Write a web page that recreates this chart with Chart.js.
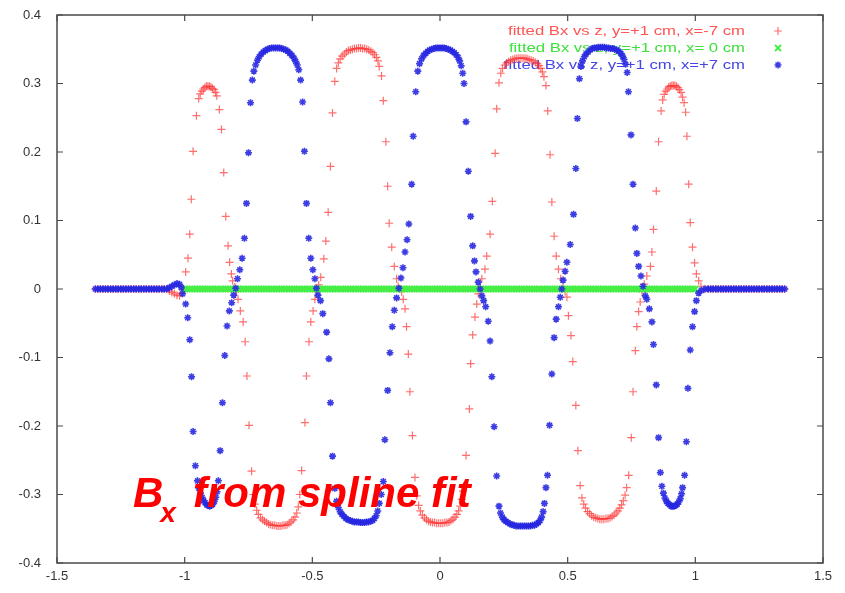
<!DOCTYPE html>
<html>
<head>
<meta charset="utf-8">
<script src="https://cdn.jsdelivr.net/npm/chart.js@4.4.1/dist/chart.umd.min.js"></script>
<style>html,body{margin:0;padding:0;background:#fff;}canvas{display:block;}</style>
</head>
<body>
<canvas id="c" width="845" height="593"></canvas>
<script>
// ---- data ----
const seriesLabels = [
  'fitted Bx vs z, y=+1 cm, x=-7 cm',
  'fitted Bx vs z, y=+1 cm, x= 0 cm',
  'fitted Bx vs z, y=+1 cm, x=+7 cm'
];
const xTicks = [-1.5, -1, -0.5, 0, 0.5, 1, 1.5];
const xTickLabels = ['-1.5', '-1', '-0.5', '0', '0.5', '1', '1.5'];
const yTicks = [-0.4, -0.3, -0.2, -0.1, 0, 0.1, 0.2, 0.3, 0.4];
const yTickLabels = ['-0.4', '-0.3', '-0.2', '-0.1', '0', '0.1', '0.2', '0.3', '0.4'];
const annotationMain = 'B';
const annotationSub = 'x';
const annotationRest = 'from spline fit';

// x = -7 cm  [z, Bx]
const redPoints = [
[-1.35,0],[-1.34,0],[-1.33,0],[-1.32,0],[-1.31,0],[-1.30,0],[-1.29,0],[-1.28,0],[-1.27,0],[-1.26,0],
[-1.25,0],[-1.24,0],[-1.23,0],[-1.22,0],[-1.21,0],[-1.20,0],[-1.19,0],[-1.18,0],[-1.17,0],[-1.16,0],
[-1.15,0],[-1.14,0],[-1.13,0],[-1.12,0],[-1.11,0],[-1.10,0],[-1.09,0],[-1.08,0],[-1.07,0],
[-1.06,-0.003],[-1.05,-0.005],[-1.04,-0.007],[-1.03,-0.009],[-1.02,-0.010],[-1.012,-0.006],[-1.004,0.000],
[-0.996,0.025],[-0.987,0.045],[-0.980,0.080],[-0.974,0.131],[-0.967,0.201],[-0.954,0.253],[-0.945,0.278],
[-0.939,0.285],[-0.933,0.289],[-0.927,0.292],[-0.921,0.294],[-0.915,0.296],[-0.909,0.296],[-0.903,0.296],[-0.897,0.295],[-0.891,0.293],[-0.885,0.291],[-0.879,0.287],[-0.874,0.282],
[-0.864,0.262],[-0.856,0.233],[-0.847,0.170],[-0.839,0.106],[-0.830,0.063],[-0.824,0.039],[-0.817,0.022],[-0.812,0.012],[-0.804,0.003],[-0.797,-0.004],[-0.791,-0.015],[-0.782,-0.032],[-0.771,-0.048],[-0.763,-0.077],[-0.756,-0.127],[-0.748,-0.199],[-0.738,-0.266],
[-0.731,-0.300],[-0.725,-0.314],[-0.718,-0.323],[-0.711,-0.329],[-0.703,-0.334],[-0.695,-0.337],[-0.687,-0.339],[-0.679,-0.341],[-0.671,-0.343],[-0.663,-0.344],[-0.655,-0.345],[-0.647,-0.345],[-0.639,-0.346],[-0.631,-0.346],[-0.623,-0.346],[-0.615,-0.345],[-0.607,-0.345],[-0.599,-0.344],[-0.591,-0.342],[-0.583,-0.340],[-0.575,-0.337],[-0.568,-0.333],[-0.561,-0.327],[-0.555,-0.318],[-0.549,-0.300],
[-0.542,-0.265],[-0.529,-0.195],[-0.523,-0.127],[-0.513,-0.077],[-0.506,-0.048],[-0.497,-0.032],[-0.490,-0.015],[-0.484,-0.004],[-0.475,0.006],[-0.467,0.017],[-0.455,0.044],[-0.447,0.070],[-0.438,0.112],[-0.429,0.179],[-0.421,0.257],[-0.412,0.303],
[-0.405,0.322],[-0.398,0.330],[-0.391,0.336],[-0.383,0.340],[-0.375,0.343],[-0.367,0.346],[-0.359,0.348],[-0.351,0.349],[-0.343,0.350],[-0.335,0.351],[-0.327,0.351],[-0.319,0.352],[-0.311,0.352],[-0.303,0.351],[-0.295,0.351],[-0.287,0.350],[-0.279,0.349],[-0.271,0.347],[-0.263,0.345],[-0.256,0.342],[-0.249,0.338],[-0.243,0.333],[-0.238,0.325],
[-0.229,0.311],[-0.222,0.275],[-0.212,0.215],[-0.205,0.150],[-0.199,0.096],[-0.189,0.061],[-0.179,0.033],[-0.170,0.015],[-0.164,0.004],[-0.157,0.000],[-0.150,-0.004],[-0.144,-0.015],[-0.137,-0.029],[-0.131,-0.055],[-0.124,-0.095],[-0.118,-0.150],[-0.108,-0.214],[-0.098,-0.275],
[-0.091,-0.302],[-0.084,-0.316],[-0.077,-0.324],[-0.069,-0.330],[-0.061,-0.334],[-0.053,-0.337],[-0.045,-0.339],[-0.037,-0.340],[-0.029,-0.341],[-0.021,-0.341],[-0.013,-0.342],[-0.005,-0.342],[0.003,-0.342],[0.011,-0.342],[0.019,-0.341],[0.027,-0.341],[0.035,-0.340],[0.043,-0.338],[0.051,-0.336],[0.059,-0.333],[0.066,-0.329],[0.073,-0.324],[0.079,-0.317],[0.085,-0.307],[0.090,-0.295],
[0.102,-0.243],[0.115,-0.175],[0.120,-0.109],[0.128,-0.067],[0.137,-0.041],[0.144,-0.022],[0.150,-0.007],[0.157,0.003],[0.164,0.015],[0.176,0.029],[0.183,0.048],[0.196,0.080],[0.205,0.128],[0.216,0.198],[0.222,0.263],[0.231,0.301],
[0.238,0.315],[0.245,0.322],[0.253,0.327],[0.261,0.330],[0.269,0.332],[0.277,0.334],[0.285,0.335],[0.293,0.336],[0.301,0.337],[0.309,0.337],[0.317,0.337],[0.325,0.337],[0.333,0.337],[0.341,0.336],[0.349,0.335],[0.357,0.334],[0.365,0.333],[0.373,0.331],[0.381,0.329],[0.388,0.326],[0.395,0.322],[0.401,0.317],[0.407,0.310],
[0.415,0.297],[0.422,0.260],[0.431,0.196],[0.438,0.127],[0.447,0.077],[0.455,0.048],[0.464,0.029],[0.473,0.015],[0.482,0.003],[0.490,-0.004],[0.497,-0.012],[0.503,-0.039],[0.513,-0.068],[0.520,-0.106],[0.532,-0.170],[0.540,-0.236],[0.549,-0.287],
[0.556,-0.305],[0.563,-0.314],[0.570,-0.320],[0.578,-0.325],[0.586,-0.328],[0.594,-0.331],[0.602,-0.333],[0.610,-0.334],[0.618,-0.335],[0.626,-0.336],[0.634,-0.336],[0.642,-0.336],[0.650,-0.335],[0.658,-0.335],[0.666,-0.334],[0.674,-0.332],[0.682,-0.330],[0.690,-0.327],[0.697,-0.324],[0.704,-0.320],[0.711,-0.315],[0.718,-0.309],[0.725,-0.301],[0.731,-0.290],
[0.739,-0.272],[0.749,-0.217],[0.756,-0.150],[0.765,-0.090],[0.771,-0.055],[0.778,-0.033],[0.784,-0.019],[0.791,-0.004],[0.800,0.007],[0.810,0.019],[0.824,0.033],[0.830,0.054],[0.836,0.087],[0.847,0.143],[0.856,0.215],[0.866,0.260],
[0.872,0.276],[0.878,0.284],[0.884,0.289],[0.890,0.292],[0.896,0.295],[0.902,0.296],[0.908,0.297],[0.914,0.297],[0.920,0.297],[0.926,0.296],[0.932,0.294],[0.938,0.291],[0.944,0.287],[0.950,0.280],[0.956,0.272],
[0.962,0.258],[0.967,0.223],[0.974,0.153],[0.980,0.097],[0.989,0.061],[0.997,0.038],[1.004,0.022],[1.013,0.012],[1.022,0.004],[1.035,0.000],
[1.05,0],[1.06,0],[1.07,0],[1.08,0],[1.09,0],[1.10,0],[1.11,0],[1.12,0],[1.13,0],[1.14,0],
[1.15,0],[1.16,0],[1.17,0],[1.18,0],[1.19,0],[1.20,0],[1.21,0],[1.22,0],[1.23,0],[1.24,0],
[1.25,0],[1.26,0],[1.27,0],[1.28,0],[1.29,0],[1.30,0],[1.31,0],[1.32,0],[1.33,0],[1.34,0],[1.35,0]
];

// x = 0 cm  [z, Bx]
const greenPoints = [
[-1.00,0],[-0.99,0],[-0.98,0],[-0.97,0],[-0.96,0],[-0.95,0],[-0.94,0],[-0.93,0],[-0.92,0],[-0.91,0],
[-0.90,0],[-0.89,0],[-0.88,0],[-0.87,0],[-0.86,0],[-0.85,0],[-0.84,0],[-0.83,0],[-0.82,0],[-0.81,0],
[-0.80,0],[-0.79,0],[-0.78,0],[-0.77,0],[-0.76,0],[-0.75,0],[-0.74,0],[-0.73,0],[-0.72,0],[-0.71,0],
[-0.70,0],[-0.69,0],[-0.68,0],[-0.67,0],[-0.66,0],[-0.65,0],[-0.64,0],[-0.63,0],[-0.62,0],[-0.61,0],
[-0.60,0],[-0.59,0],[-0.58,0],[-0.57,0],[-0.56,0],[-0.55,0],[-0.54,0],[-0.53,0],[-0.52,0],[-0.51,0],
[-0.50,0],[-0.49,0],[-0.48,0],[-0.47,0],[-0.46,0],[-0.45,0],[-0.44,0],[-0.43,0],[-0.42,0],[-0.41,0],
[-0.40,0],[-0.39,0],[-0.38,0],[-0.37,0],[-0.36,0],[-0.35,0],[-0.34,0],[-0.33,0],[-0.32,0],[-0.31,0],
[-0.30,0],[-0.29,0],[-0.28,0],[-0.27,0],[-0.26,0],[-0.25,0],[-0.24,0],[-0.23,0],[-0.22,0],[-0.21,0],
[-0.20,0],[-0.19,0],[-0.18,0],[-0.17,0],[-0.16,0],[-0.15,0],[-0.14,0],[-0.13,0],[-0.12,0],[-0.11,0],
[-0.10,0],[-0.09,0],[-0.08,0],[-0.07,0],[-0.06,0],[-0.05,0],[-0.04,0],[-0.03,0],[-0.02,0],[-0.01,0],
[0.00,0],[0.01,0],[0.02,0],[0.03,0],[0.04,0],[0.05,0],[0.06,0],[0.07,0],[0.08,0],[0.09,0],
[0.10,0],[0.11,0],[0.12,0],[0.13,0],[0.14,0],[0.15,0],[0.16,0],[0.17,0],[0.18,0],[0.19,0],
[0.20,0],[0.21,0],[0.22,0],[0.23,0],[0.24,0],[0.25,0],[0.26,0],[0.27,0],[0.28,0],[0.29,0],
[0.30,0],[0.31,0],[0.32,0],[0.33,0],[0.34,0],[0.35,0],[0.36,0],[0.37,0],[0.38,0],[0.39,0],
[0.40,0],[0.41,0],[0.42,0],[0.43,0],[0.44,0],[0.45,0],[0.46,0],[0.47,0],[0.48,0],[0.49,0],
[0.50,0],[0.51,0],[0.52,0],[0.53,0],[0.54,0],[0.55,0],[0.56,0],[0.57,0],[0.58,0],[0.59,0],
[0.60,0],[0.61,0],[0.62,0],[0.63,0],[0.64,0],[0.65,0],[0.66,0],[0.67,0],[0.68,0],[0.69,0],
[0.70,0],[0.71,0],[0.72,0],[0.73,0],[0.74,0],[0.75,0],[0.76,0],[0.77,0],[0.78,0],[0.79,0],
[0.80,0],[0.81,0],[0.82,0],[0.83,0],[0.84,0],[0.85,0],[0.86,0],[0.87,0],[0.88,0],[0.89,0],
[0.90,0],[0.91,0],[0.92,0],[0.93,0],[0.94,0],[0.95,0],[0.96,0],[0.97,0],[0.98,0],[0.99,0],
[1.00,0]
];

// x = +7 cm  [z, Bx]
const bluePoints = [
[-1.35,0],[-1.34,0],[-1.33,0],[-1.32,0],[-1.31,0],[-1.30,0],[-1.29,0],[-1.28,0],[-1.27,0],[-1.26,0],
[-1.25,0],[-1.24,0],[-1.23,0],[-1.22,0],[-1.21,0],[-1.20,0],[-1.19,0],[-1.18,0],[-1.17,0],[-1.16,0],
[-1.15,0],[-1.14,0],[-1.13,0],[-1.12,0],[-1.11,0],[-1.10,0],[-1.09,0],[-1.08,0],[-1.07,0],
[-1.06,0.002],[-1.05,0.004],[-1.04,0.006],[-1.03,0.008],[-1.02,0.007],[-1.013,0.002],
[-1.008,-0.007],[-0.996,-0.022],[-0.988,-0.042],[-0.980,-0.074],[-0.973,-0.128],[-0.967,-0.208],[-0.958,-0.258],
[-0.950,-0.280],[-0.944,-0.291],[-0.938,-0.298],[-0.932,-0.304],[-0.926,-0.309],[-0.920,-0.312],[-0.914,-0.315],[-0.908,-0.316],[-0.902,-0.317],[-0.896,-0.316],[-0.890,-0.314],[-0.884,-0.310],[-0.878,-0.304],[-0.873,-0.296],[-0.868,-0.280],
[-0.861,-0.236],[-0.852,-0.166],[-0.843,-0.097],[-0.834,-0.054],[-0.825,-0.032],[-0.816,-0.020],[-0.808,-0.009],[-0.800,0.001],[-0.793,0.015],[-0.784,0.028],[-0.775,0.045],[-0.766,0.074],[-0.758,0.125],[-0.750,0.199],[-0.742,0.272],
[-0.735,0.305],[-0.729,0.318],[-0.722,0.327],[-0.715,0.334],[-0.708,0.339],[-0.700,0.343],[-0.692,0.346],[-0.684,0.348],[-0.676,0.350],[-0.668,0.351],[-0.660,0.352],[-0.652,0.352],[-0.644,0.352],[-0.636,0.352],[-0.628,0.352],[-0.620,0.351],[-0.612,0.350],[-0.604,0.349],[-0.596,0.347],[-0.588,0.344],[-0.580,0.341],[-0.572,0.337],[-0.565,0.332],[-0.559,0.327],[-0.553,0.320],[-0.546,0.305],
[-0.538,0.273],[-0.531,0.201],[-0.523,0.125],[-0.514,0.074],[-0.506,0.045],[-0.498,0.028],[-0.490,0.015],[-0.484,0.001],[-0.478,-0.009],[-0.468,-0.017],[-0.459,-0.036],[-0.444,-0.063],[-0.435,-0.102],[-0.429,-0.166],[-0.421,-0.244],[-0.412,-0.291],
[-0.405,-0.310],[-0.398,-0.319],[-0.391,-0.325],[-0.384,-0.329],[-0.376,-0.332],[-0.368,-0.335],[-0.360,-0.337],[-0.352,-0.338],[-0.344,-0.339],[-0.336,-0.340],[-0.328,-0.340],[-0.320,-0.340],[-0.312,-0.341],[-0.304,-0.341],[-0.296,-0.341],[-0.288,-0.340],[-0.280,-0.340],[-0.272,-0.339],[-0.264,-0.338],[-0.257,-0.335],[-0.250,-0.331],[-0.244,-0.324],[-0.238,-0.313],[-0.230,-0.300],
[-0.222,-0.281],[-0.216,-0.220],[-0.205,-0.148],[-0.196,-0.093],[-0.187,-0.055],[-0.179,-0.031],[-0.170,-0.013],[-0.161,0.001],[-0.153,0.016],[-0.145,0.031],[-0.137,0.054],[-0.129,0.072],[-0.122,0.095],[-0.111,0.153],[-0.105,0.223],[-0.095,0.288],
[-0.087,0.318],[-0.080,0.329],[-0.072,0.336],[-0.064,0.341],[-0.056,0.344],[-0.048,0.347],[-0.040,0.349],[-0.032,0.350],[-0.024,0.351],[-0.016,0.352],[-0.008,0.352],[0.000,0.352],[0.008,0.352],[0.016,0.352],[0.024,0.351],[0.032,0.350],[0.040,0.349],[0.048,0.347],[0.056,0.345],[0.064,0.342],[0.071,0.338],[0.077,0.333],[0.083,0.326],[0.089,0.315],[0.094,0.300],
[0.102,0.244],[0.111,0.172],[0.120,0.106],[0.128,0.063],[0.135,0.041],[0.141,0.025],[0.150,0.010],[0.157,0.000],[0.164,-0.010],[0.171,-0.017],[0.179,-0.026],[0.189,-0.047],[0.196,-0.076],[0.203,-0.128],[0.212,-0.201],[0.222,-0.273],[0.231,-0.317],
[0.237,-0.327],[0.244,-0.333],[0.251,-0.337],[0.258,-0.339],[0.266,-0.341],[0.274,-0.343],[0.282,-0.344],[0.290,-0.345],[0.298,-0.346],[0.306,-0.346],[0.314,-0.346],[0.322,-0.346],[0.330,-0.346],[0.338,-0.346],[0.346,-0.346],[0.354,-0.346],[0.362,-0.345],[0.370,-0.345],[0.378,-0.343],[0.385,-0.341],[0.392,-0.338],[0.398,-0.333],[0.404,-0.325],[0.409,-0.313],
[0.415,-0.290],[0.421,-0.272],[0.429,-0.199],[0.438,-0.124],[0.447,-0.071],[0.455,-0.044],[0.464,-0.026],[0.471,-0.012],[0.477,0.000],[0.482,0.013],[0.490,0.026],[0.497,0.039],[0.510,0.065],[0.523,0.109],[0.532,0.176],[0.538,0.249],[0.546,0.307],
[0.552,0.325],[0.558,0.333],[0.565,0.339],[0.572,0.343],[0.580,0.346],[0.588,0.349],[0.596,0.351],[0.604,0.352],[0.612,0.352],[0.620,0.353],[0.628,0.353],[0.636,0.353],[0.644,0.353],[0.652,0.352],[0.660,0.352],[0.668,0.351],[0.676,0.351],[0.684,0.350],[0.692,0.349],[0.700,0.347],[0.708,0.344],[0.715,0.340],[0.721,0.335],[0.727,0.328],[0.733,0.316],
[0.738,0.288],[0.748,0.225],[0.756,0.153],[0.765,0.089],[0.771,0.052],[0.778,0.033],[0.787,0.019],[0.795,0.004],[0.804,-0.010],[0.810,-0.015],[0.820,-0.029],[0.830,-0.048],[0.836,-0.081],[0.847,-0.140],[0.856,-0.217],[0.863,-0.268],
[0.869,-0.288],[0.875,-0.298],[0.881,-0.305],[0.887,-0.310],[0.893,-0.313],[0.899,-0.315],[0.905,-0.317],[0.911,-0.317],[0.917,-0.317],[0.923,-0.316],[0.929,-0.314],[0.935,-0.311],[0.941,-0.306],[0.946,-0.299],[0.950,-0.290],
[0.958,-0.272],[0.965,-0.223],[0.971,-0.145],[0.980,-0.089],[0.989,-0.055],[0.997,-0.033],[1.004,-0.017],[1.013,-0.006],[1.024,-0.002],[1.039,0],
[1.05,0],[1.06,0],[1.07,0],[1.08,0],[1.09,0],[1.10,0],[1.11,0],[1.12,0],[1.13,0],[1.14,0],
[1.15,0],[1.16,0],[1.17,0],[1.18,0],[1.19,0],[1.20,0],[1.21,0],[1.22,0],[1.23,0],[1.24,0],
[1.25,0],[1.26,0],[1.27,0],[1.28,0],[1.29,0],[1.30,0],[1.31,0],[1.32,0],[1.33,0],[1.34,0],[1.35,0]
];

// ---- rendering ----
const FONT = '"Liberation Sans", Arial, Helvetica, sans-serif';
const toXY = arr => arr.map(p => ({ x: p[0], y: p[1] }));

function drawMarker(ctx, style, x, y, r, color, lw) {
  ctx.save();
  ctx.strokeStyle = color;
  ctx.lineWidth = lw;
  ctx.beginPath();
  if (style === 'cross' || style === 'star') {
    ctx.moveTo(x - r, y); ctx.lineTo(x + r, y);
    ctx.moveTo(x, y - r); ctx.lineTo(x, y + r);
  }
  if (style === 'crossRot' || style === 'star') {
    const d = r * 0.7071;
    ctx.moveTo(x - d, y - d); ctx.lineTo(x + d, y + d);
    ctx.moveTo(x - d, y + d); ctx.lineTo(x + d, y - d);
  }
  ctx.stroke();
  ctx.restore();
}

const legendPlugin = {
  id: 'gpLegend',
  beforeDatasetsDraw(chart) {
    const ctx = chart.ctx;
    ctx.save();
    ctx.font = '13px ' + FONT;
    ctx.textAlign = 'right';
    ctx.textBaseline = 'middle';
    const sx = 237 / ctx.measureText(chart.data.datasets[0].label).width;
    chart.data.datasets.forEach((ds, i) => {
      const y = 31 + i * 17;
      ctx.save();
      ctx.translate(745, y);
      ctx.scale(sx, 1);
      ctx.fillStyle = ds.legendTextColor;
      ctx.fillText(ds.label, 0, 0);
      ctx.restore();
      drawMarker(ctx, ds.pointStyle, 778, y, ds.pointRadius, ds.borderColor, ds.borderWidth);
    });
    ctx.restore();
  }
};

const framePlugin = {
  id: 'gpFrame',
  afterDatasetsDraw(chart) {
    const { ctx, chartArea: a, scales } = chart;
    ctx.save();
    ctx.strokeStyle = '#4a4a4a';
    ctx.lineWidth = 1.5;
    ctx.strokeRect(a.left, a.top, a.right - a.left, a.bottom - a.top);
    ctx.beginPath();
    xTicks.forEach(v => {
      const px = scales.x.getPixelForValue(v);
      ctx.moveTo(px, a.bottom); ctx.lineTo(px, a.bottom - 6);
      ctx.moveTo(px, a.top); ctx.lineTo(px, a.top + 6);
    });
    yTicks.forEach(v => {
      const py = scales.y.getPixelForValue(v);
      ctx.moveTo(a.left, py); ctx.lineTo(a.left + 6, py);
      ctx.moveTo(a.right, py); ctx.lineTo(a.right - 6, py);
    });
    ctx.lineWidth = 1.2;
    ctx.stroke();
    ctx.restore();
  }
};

const annotationPlugin = {
  id: 'gpAnnotation',
  afterDraw(chart) {
    const ctx = chart.ctx;
    ctx.save();
    ctx.fillStyle = '#ff0000';
    ctx.textAlign = 'left';
    ctx.textBaseline = 'alphabetic';
    ctx.font = 'italic bold 42px ' + FONT;
    ctx.fillText(annotationMain, 133, 507);
    const wB = ctx.measureText(annotationMain).width;
    ctx.font = 'italic bold 28px ' + FONT;
    ctx.fillText(annotationSub, 133 + wB - 3, 522);
    ctx.font = 'italic bold 42px ' + FONT;
    ctx.fillText(annotationRest, 193, 507);
    ctx.restore();
  }
};

new Chart(document.getElementById('c'), {
  type: 'scatter',
  data: {
    datasets: [
      { label: seriesLabels[0], data: toXY(redPoints), pointStyle: 'cross', pointRadius: 4,
        borderWidth: 1.2, borderColor: 'rgba(255,50,50,0.7)', backgroundColor: 'rgba(0,0,0,0)',
        order: 3, legendTextColor: 'rgb(255,85,85)' },
      { label: seriesLabels[1], data: toXY(greenPoints), pointStyle: 'crossRot', pointRadius: 4.2,
        borderWidth: 2, borderColor: 'rgb(70,238,70)', backgroundColor: 'rgba(0,0,0,0)',
        order: 2, legendTextColor: 'rgb(60,225,60)' },
      { label: seriesLabels[2], data: toXY(bluePoints), pointStyle: 'star', pointRadius: 3.5,
        borderWidth: 1.6, borderColor: 'rgba(40,40,225,0.9)', backgroundColor: 'rgba(0,0,0,0)',
        order: 1, legendTextColor: 'rgb(70,70,230)' }
    ]
  },
  options: {
    responsive: false,
    animation: false,
    devicePixelRatio: 1,
    events: [],
    layout: { padding: { top: 15, right: 22, left: 0, bottom: 0 } },
    plugins: { legend: { display: false }, tooltip: { enabled: false } },
    scales: {
      x: {
        type: 'linear', min: -1.5, max: 1.5,
        grid: { display: false, drawTicks: false }, border: { display: false },
        afterBuildTicks(s) { s.ticks = xTicks.map(v => ({ value: v })); },
        afterFit(s) { s.height = 30; s.paddingLeft = 0; s.paddingRight = 0; s.paddingTop = 0; s.paddingBottom = 0; },
        ticks: { font: { family: FONT, size: 13 }, color: '#333', padding: 6, maxRotation: 0, autoSkip: false,
          callback: v => xTickLabels[xTicks.indexOf(v)] }
      },
      y: {
        type: 'linear', min: -0.4, max: 0.4,
        grid: { display: false, drawTicks: false }, border: { display: false },
        afterBuildTicks(s) { s.ticks = yTicks.map(v => ({ value: v })); },
        afterFit(s) { s.width = 57; s.paddingLeft = 0; s.paddingRight = 0; s.paddingTop = 0; s.paddingBottom = 0; },
        ticks: { font: { family: FONT, size: 13 }, color: '#333', padding: 16, autoSkip: false,
          callback: v => yTickLabels[yTicks.indexOf(v)] }
      }
    }
  },
  plugins: [legendPlugin, framePlugin, annotationPlugin]
});
</script>
</body>
</html>
